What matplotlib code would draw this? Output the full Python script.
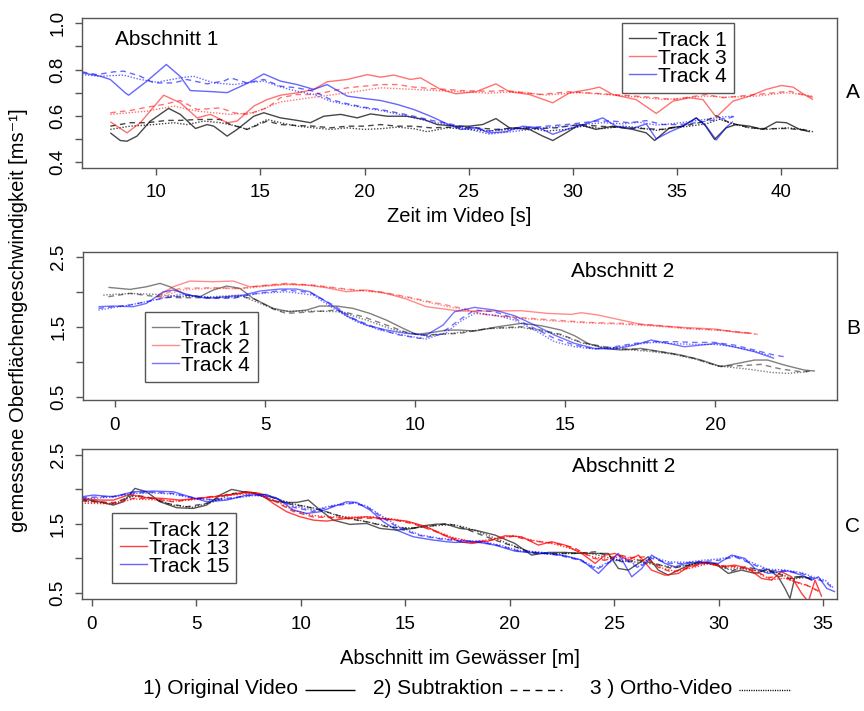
import matplotlib
matplotlib.use("Agg")
import matplotlib.pyplot as plt
from matplotlib.lines import Line2D

plt.rcParams['font.family'] = ['Liberation Sans', 'DejaVu Sans']

# ---------------------------------------------------------------------------
# Abschnitt 1: Zeit im Video [s] vs. Geschwindigkeit [m/s]
# (orig = Original Video, sub = Subtraktion, ortho = Ortho-Video)
# ---------------------------------------------------------------------------
A_T1_ORIG = [(7.79, 0.526), (8.27, 0.493), (8.59, 0.490), (9.07, 0.512), (9.71, 0.577), (10.59, 0.632),
             (11.15, 0.606), (11.88, 0.545), (12.44, 0.562), (12.76, 0.555), (13.4, 0.512), (13.88, 0.541),
             (14.68, 0.598), (15.16, 0.613), (15.96, 0.591), (16.76, 0.580), (17.4, 0.570), (18.04, 0.598),
             (18.85, 0.606), (19.65, 0.591), (20.29, 0.608), (21.09, 0.598), (22.05, 0.598), (22.85, 0.584),
             (23.49, 0.562), (24.39, 0.555), (25.03, 0.555), (25.67, 0.562), (26.31, 0.588), (26.96, 0.548),
             (27.92, 0.541), (28.56, 0.512), (29.04, 0.493), (29.68, 0.526), (30.32, 0.562), (31.12, 0.541),
             (31.92, 0.555), (32.88, 0.541), (33.53, 0.526), (33.93, 0.493), (34.65, 0.548), (35.29, 0.555),
             (35.93, 0.591), (36.33, 0.562), (36.81, 0.498), (37.37, 0.548), (37.85, 0.562), (38.49, 0.555),
             (39.13, 0.541), (39.78, 0.573), (40.26, 0.570), (40.9, 0.541), (41.38, 0.531)]
A_T1_SUB = [(7.79, 0.555), (8.75, 0.570), (9.55, 0.570), (10.51, 0.580), (11.15, 0.580), (11.96, 0.584),
            (13.08, 0.584), (13.56, 0.562), (14.36, 0.541), (15.32, 0.577), (15.96, 0.562), (16.76, 0.558),
            (17.56, 0.555), (18.37, 0.548), (19.17, 0.555), (19.97, 0.555), (20.77, 0.562), (21.57, 0.555),
            (22.37, 0.555), (23.17, 0.548), (24.39, 0.551), (25.35, 0.548), (26.31, 0.541), (27.28, 0.548),
            (28.4, 0.545), (29.2, 0.548), (30.32, 0.562), (31.28, 0.555), (32.4, 0.548), (33.53, 0.544),
            (34.33, 0.541), (35.29, 0.555), (36.33, 0.575), (36.89, 0.600), (37.53, 0.570), (38.49, 0.548),
            (39.29, 0.544), (40.26, 0.545), (41.38, 0.537)]
A_T1_ORTHO = [(7.79, 0.541), (8.75, 0.555), (9.87, 0.562), (10.83, 0.570), (11.47, 0.562), (12.28, 0.577),
              (13.08, 0.570), (13.88, 0.555), (14.36, 0.541), (15.32, 0.584), (15.96, 0.570), (16.76, 0.555),
              (17.56, 0.548), (18.37, 0.541), (19.17, 0.548), (19.97, 0.541), (20.77, 0.544), (21.57, 0.551),
              (22.37, 0.544), (23.01, 0.531), (23.97, 0.548), (25.03, 0.541), (25.99, 0.534), (26.96, 0.541),
              (27.92, 0.548), (28.72, 0.534), (29.68, 0.541), (30.48, 0.555), (31.44, 0.544), (32.4, 0.555),
              (33.2, 0.548), (34.01, 0.537), (34.81, 0.548), (35.61, 0.555), (36.41, 0.565), (37.05, 0.585),
              (37.69, 0.565), (38.49, 0.548), (39.29, 0.541), (40.26, 0.548), (41.06, 0.541), (41.54, 0.531)]

A_T3_ORIG = [(7.79, 0.574), (8.59, 0.526), (9.23, 0.570), (10.35, 0.689), (11.15, 0.656), (11.96, 0.591),
             (12.6, 0.606), (13.4, 0.570), (13.88, 0.577), (14.68, 0.642), (15.32, 0.670), (15.96, 0.689),
             (16.76, 0.699), (17.56, 0.714), (18.2, 0.747), (19.17, 0.757), (20.13, 0.778), (20.77, 0.767),
             (21.41, 0.776), (22.21, 0.757), (22.69, 0.764), (23.65, 0.714), (24.39, 0.695), (25.35, 0.704),
             (26.31, 0.738), (26.96, 0.704), (27.92, 0.692), (29.04, 0.656), (29.84, 0.699), (30.8, 0.714),
             (31.28, 0.724), (31.92, 0.692), (33.04, 0.670), (34.01, 0.610), (34.81, 0.663), (35.61, 0.678),
             (36.25, 0.670), (36.89, 0.594), (37.69, 0.663), (38.49, 0.685), (39.29, 0.714), (40.02, 0.731),
             (40.58, 0.724), (41.06, 0.695), (41.54, 0.670)]
A_T3_SUB = [(7.79, 0.613), (8.75, 0.623), (9.55, 0.637), (10.35, 0.649), (11.15, 0.666), (11.96, 0.627),
            (13.08, 0.634), (13.72, 0.613), (14.36, 0.606), (15.32, 0.634), (15.96, 0.678), (16.76, 0.692),
            (17.56, 0.692), (18.37, 0.706), (19.17, 0.721), (19.97, 0.728), (20.77, 0.735), (21.57, 0.735),
            (22.37, 0.724), (23.17, 0.718), (23.97, 0.714), (24.62, 0.709), (25.99, 0.706), (26.79, 0.709),
            (28.4, 0.692), (29.84, 0.704), (31.44, 0.695), (33.04, 0.685), (34.01, 0.678), (34.81, 0.670),
            (36.41, 0.692), (37.21, 0.678), (38.81, 0.692), (40.42, 0.706), (41.54, 0.680)]
A_T3_ORTHO = [(7.79, 0.606), (9.55, 0.620), (10.83, 0.642), (11.96, 0.620), (13.56, 0.606), (14.68, 0.613),
              (15.96, 0.660), (17.56, 0.680), (19.17, 0.699), (20.77, 0.721), (22.37, 0.714), (24.62, 0.704),
              (25.99, 0.698), (27.28, 0.704), (28.72, 0.690), (30.32, 0.700), (31.6, 0.692), (33.2, 0.680),
              (34.33, 0.670), (35.29, 0.676), (36.41, 0.685), (37.37, 0.680), (38.81, 0.685), (40.26, 0.700),
              (41.54, 0.685)]

A_T4_ORIG = [(6.43, 0.786), (7.31, 0.771), (7.79, 0.757), (8.51, 0.699), (8.67, 0.689), (9.55, 0.750),
             (10.48, 0.822), (11.15, 0.770), (11.63, 0.709), (12.76, 0.704), (13.4, 0.700), (14.36, 0.740),
             (15.16, 0.781), (15.96, 0.750), (16.76, 0.735), (17.56, 0.714), (18.2, 0.735), (19.17, 0.685),
             (19.97, 0.675), (20.77, 0.666), (21.57, 0.649), (22.37, 0.627), (23.17, 0.598), (23.97, 0.565),
             (24.62, 0.541), (25.35, 0.548), (25.99, 0.526), (26.79, 0.531), (27.6, 0.555), (28.4, 0.548),
             (29.04, 0.520), (29.84, 0.545), (30.48, 0.560), (31.44, 0.591), (32.08, 0.555), (32.88, 0.545),
             (33.53, 0.565), (34.01, 0.500), (34.65, 0.530), (35.29, 0.555), (35.93, 0.590), (36.41, 0.555),
             (36.89, 0.495), (37.37, 0.550), (37.69, 0.575)]
A_T4_SUB = [(6.43, 0.790), (7.15, 0.778), (7.95, 0.790), (8.43, 0.793), (9.23, 0.771), (9.87, 0.742),
            (10.83, 0.742), (11.47, 0.757), (12.44, 0.738), (13.24, 0.750), (13.56, 0.764), (14.36, 0.742),
            (15.16, 0.757), (15.96, 0.728), (16.76, 0.721), (17.56, 0.706), (18.37, 0.670), (19.17, 0.652),
            (19.97, 0.637), (20.77, 0.627), (21.57, 0.613), (22.37, 0.598), (23.17, 0.581), (23.97, 0.567),
            (24.62, 0.555), (25.35, 0.548), (25.99, 0.534), (26.96, 0.545), (27.92, 0.548), (28.72, 0.555),
            (29.68, 0.562), (30.48, 0.570), (31.12, 0.577), (31.92, 0.577), (32.72, 0.570), (33.53, 0.579),
            (34.33, 0.562), (35.13, 0.562), (35.93, 0.570), (36.73, 0.581), (37.53, 0.591), (37.85, 0.600)]
A_T4_ORTHO = [(6.43, 0.778), (7.31, 0.771), (8.43, 0.776), (9.23, 0.757), (10.03, 0.745), (11.15, 0.764),
              (11.79, 0.771), (12.76, 0.742), (13.72, 0.735), (15.16, 0.750), (15.96, 0.725), (16.76, 0.706),
              (17.56, 0.692), (18.37, 0.663), (19.17, 0.648), (19.97, 0.634), (20.77, 0.623), (21.57, 0.608),
              (22.37, 0.591), (23.17, 0.574), (23.97, 0.562), (24.62, 0.551), (25.35, 0.534), (25.99, 0.521),
              (26.96, 0.530), (27.92, 0.540), (28.72, 0.548), (29.68, 0.555), (30.48, 0.562), (31.44, 0.570),
              (32.4, 0.565), (33.2, 0.572), (34.01, 0.560), (34.81, 0.566), (35.61, 0.575), (36.41, 0.585),
              (37.21, 0.595), (37.69, 0.598)]

# ---------------------------------------------------------------------------
# Abschnitt 2, Tracks 1/2/4: Abschnitt im Gewaesser [m] vs. Geschwindigkeit
# ---------------------------------------------------------------------------
B_T1_ORIG = [(-0.22, 2.062), (0.5, 2.033), (1.05, 2.071), (1.5, 2.119), (1.83, 2.071), (2.38, 1.952),
             (2.83, 1.929), (3.27, 2.024), (3.72, 2.081), (4.16, 2.048), (4.6, 1.905), (5.27, 1.762),
             (5.82, 1.714), (6.38, 1.738), (6.82, 1.795), (7.38, 1.795), (7.93, 1.762), (8.49, 1.690),
             (9.04, 1.595), (9.6, 1.476), (10.04, 1.390), (10.59, 1.419), (11.04, 1.452), (11.48, 1.452),
             (11.98, 1.438), (12.76, 1.500), (13.53, 1.548), (14.2, 1.514), (14.86, 1.452), (15.31, 1.371),
             (15.75, 1.262), (16.31, 1.190), (16.86, 1.167), (17.53, 1.190), (18.19, 1.143), (18.86, 1.095),
             (19.53, 1.024), (20.19, 0.929), (20.74, 0.976), (21.3, 1.024), (21.74, 1.024), (22.3, 0.952),
             (22.96, 0.881), (23.3, 0.867)]
B_T1_SUB = [(-0.22, 1.929), (0.5, 1.976), (1.39, 1.929), (2.16, 1.914), (3.27, 1.914), (4.16, 1.929),
            (4.6, 1.905), (5.27, 1.752), (5.71, 1.690), (6.6, 1.714), (7.38, 1.738), (8.26, 1.643),
            (9.04, 1.524), (9.71, 1.419), (10.26, 1.381), (11.48, 1.405), (12.42, 1.476), (13.53, 1.500),
            (14.2, 1.452), (14.86, 1.390), (15.53, 1.276), (16.31, 1.214), (17.09, 1.181), (17.75, 1.167),
            (18.53, 1.119), (19.3, 1.048), (20.08, 0.938), (20.85, 0.943), (21.52, 0.962), (22.19, 0.895),
            (22.85, 0.857), (23.3, 0.867)]
B_T1_ORTHO = [(-0.39, 1.952), (0.5, 1.976), (1.39, 1.962), (2.16, 1.929), (3.27, 1.929), (4.16, 1.952),
              (4.83, 1.833), (5.49, 1.724), (6.6, 1.724), (7.49, 1.714), (8.37, 1.595), (9.15, 1.476),
              (9.82, 1.405), (10.37, 1.371), (11.48, 1.419), (12.42, 1.470), (13.53, 1.490), (14.2, 1.440),
              (14.86, 1.380), (15.53, 1.270), (16.31, 1.200), (17.09, 1.170), (17.75, 1.150), (18.53, 1.110),
              (19.3, 1.040), (20.08, 0.940), (21.07, 0.895), (21.85, 0.848), (22.41, 0.833), (23.07, 0.857)]

B_T2_ORIG = [(1.39, 1.929), (1.94, 2.071), (2.5, 2.152), (3.27, 2.143), (3.94, 2.152), (4.49, 2.071),
             (5.05, 2.086), (5.71, 2.110), (6.38, 2.095), (7.04, 2.057), (7.71, 2.000), (8.37, 2.024),
             (9.04, 1.976), (9.71, 1.895), (10.37, 1.786), (11.04, 1.748), (11.48, 1.724), (12.42, 1.724),
             (13.53, 1.729), (14.42, 1.690), (15.2, 1.676), (15.53, 1.700), (16.09, 1.667), (16.86, 1.595),
             (17.53, 1.533), (18.19, 1.510), (19.08, 1.486), (19.97, 1.467), (20.74, 1.419), (21.19, 1.405)]
B_T2_SUB = [(1.39, 1.929), (2.16, 2.048), (3.27, 2.057), (4.16, 2.048), (5.05, 2.095), (5.71, 2.119),
            (6.6, 2.095), (7.71, 2.038), (8.82, 2.000), (9.71, 1.929), (10.37, 1.867), (11.04, 1.810),
            (11.6, 1.760), (12.42, 1.667), (13.53, 1.629), (14.64, 1.595), (15.75, 1.562), (16.86, 1.548),
            (17.97, 1.524), (19.08, 1.476), (20.19, 1.452), (20.96, 1.419), (21.41, 1.390)]
B_T2_ORTHO = [(1.5, 1.905), (2.16, 2.024), (3.27, 2.050), (4.16, 2.040), (5.05, 2.080), (5.71, 2.100),
              (6.6, 2.090), (7.71, 2.030), (8.82, 1.990), (9.71, 1.920), (10.37, 1.855), (11.04, 1.790),
              (11.6, 1.745), (12.42, 1.670), (13.53, 1.620), (14.64, 1.580), (15.75, 1.555), (16.86, 1.535),
              (17.97, 1.510), (19.08, 1.470), (20.19, 1.445), (21.07, 1.410), (21.3, 1.400)]

B_T4_ORIG = [(-0.55, 1.786), (-0.06, 1.795), (0.61, 1.786), (1.05, 1.833), (1.61, 2.000), (1.94, 2.024),
             (2.5, 1.952), (3.05, 1.905), (3.72, 1.929), (4.27, 1.952), (4.83, 2.010), (5.49, 2.038),
             (6.05, 2.038), (6.49, 2.000), (7.04, 1.857), (7.71, 1.657), (8.37, 1.524), (9.04, 1.452),
             (9.71, 1.405), (10.37, 1.381), (10.93, 1.524), (11.31, 1.714), (11.98, 1.776), (12.64, 1.738),
             (13.31, 1.657), (13.98, 1.524), (14.64, 1.381), (15.31, 1.262), (15.97, 1.190), (16.64, 1.181),
             (17.31, 1.238), (17.86, 1.310), (18.42, 1.262), (18.97, 1.214), (19.53, 1.238), (20.08, 1.262),
             (20.74, 1.200), (21.3, 1.143), (21.96, 1.048)]
B_T4_SUB = [(-0.55, 1.762), (0.5, 1.810), (1.05, 1.857), (1.72, 1.914), (2.5, 1.952), (3.27, 1.905),
            (3.94, 1.905), (4.71, 1.976), (5.71, 2.024), (6.49, 1.990), (7.27, 1.810), (7.93, 1.619),
            (8.6, 1.500), (9.37, 1.390), (10.15, 1.333), (10.82, 1.390), (11.48, 1.600), (11.98, 1.738),
            (12.64, 1.714), (13.31, 1.619), (13.98, 1.476), (14.64, 1.333), (15.31, 1.238), (15.97, 1.181),
            (16.64, 1.214), (17.31, 1.262), (17.97, 1.286), (18.64, 1.286), (19.3, 1.276), (19.97, 1.276),
            (20.63, 1.238), (21.3, 1.167), (21.96, 1.095), (22.3, 1.071)]
B_T4_ORTHO = [(-0.55, 1.738), (0.5, 1.810), (1.28, 1.881), (2.16, 1.962), (3.05, 1.914), (3.94, 1.919),
              (4.83, 1.976), (5.71, 2.000), (6.6, 1.952), (7.27, 1.762), (8.04, 1.571), (8.82, 1.452),
              (9.71, 1.371), (10.37, 1.324), (11.04, 1.419), (11.48, 1.571), (11.98, 1.690), (12.64, 1.667),
              (13.31, 1.595), (13.98, 1.452), (14.64, 1.286), (15.31, 1.214), (15.97, 1.181), (16.64, 1.200),
              (17.31, 1.248), (17.97, 1.276), (18.64, 1.257), (19.3, 1.248), (19.97, 1.248), (20.63, 1.214),
              (21.3, 1.152), (21.85, 1.081)]

# ---------------------------------------------------------------------------
# Abschnitt 2, Tracks 12/13/15
# ---------------------------------------------------------------------------
C_T12_ORIG = [(-0.48, 1.860), (0.24, 1.830), (1.04, 1.772), (1.52, 1.821), (2.07, 2.015), (2.63, 1.966),
              (3.27, 1.821), (4.07, 1.734), (4.86, 1.724), (5.5, 1.772), (6.14, 1.918), (6.7, 2.000),
              (7.26, 1.966), (7.89, 1.942), (8.53, 1.845), (9.17, 1.811), (9.81, 1.811), (10.37, 1.845),
              (10.93, 1.700), (11.56, 1.554), (12.36, 1.492), (13.16, 1.506), (13.8, 1.433), (14.59, 1.409),
              (15.39, 1.433), (15.87, 1.472), (16.51, 1.496), (16.99, 1.492), (17.62, 1.433), (18.34, 1.409),
              (19.3, 1.337), (20.25, 1.215), (21.05, 1.046), (21.85, 1.085), (22.65, 1.085), (23.45, 1.070),
              (24.25, 1.070), (24.72, 1.070), (25.2, 0.852), (25.68, 0.828), (26.16, 0.925), (26.63, 1.022),
              (27.11, 0.828), (27.59, 0.755), (28.23, 0.852), (29.02, 0.949), (29.82, 0.925), (30.46, 0.780),
              (31.1, 0.828), (31.73, 0.780), (32.37, 0.840), (32.85, 0.731), (33.17, 0.562), (33.41, 0.416),
              (33.65, 0.731), (34.13, 0.731), (34.45, 0.683)]
C_T12_SUB = [(-0.48, 1.845), (1.04, 1.797), (1.99, 1.918), (2.63, 1.893), (3.59, 1.797), (4.55, 1.748),
             (5.5, 1.797), (6.46, 1.927), (7.42, 1.966), (8.37, 1.918), (9.33, 1.797), (10.29, 1.748),
             (11.24, 1.676), (12.2, 1.579), (13.16, 1.530), (14.11, 1.458), (15.07, 1.433), (16.03, 1.458),
             (16.99, 1.506), (17.62, 1.458), (18.34, 1.375), (19.3, 1.264), (20.25, 1.167), (21.21, 1.070),
             (22.17, 1.070), (23.12, 1.070), (24.09, 1.094), (24.72, 1.036), (25.36, 0.949), (26.16, 0.973),
             (26.95, 0.925), (27.75, 0.852), (28.55, 0.901), (29.34, 0.939), (30.14, 0.901), (30.62, 0.814),
             (31.25, 0.876), (32.05, 0.828), (32.69, 0.804), (33.33, 0.707), (33.97, 0.731), (34.45, 0.707)]
C_T12_ORTHO = [(-0.48, 1.83), (1.04, 1.79), (1.99, 1.90), (2.95, 1.87), (3.91, 1.77), (4.86, 1.74),
               (5.82, 1.82), (6.78, 1.94), (7.74, 1.95), (8.69, 1.88), (9.65, 1.79), (10.61, 1.73),
               (11.56, 1.64), (12.52, 1.57), (13.48, 1.51), (14.43, 1.45), (15.39, 1.44), (16.35, 1.47),
               (17.3, 1.49), (18.0, 1.44), (18.98, 1.33), (19.94, 1.21), (20.89, 1.10), (21.85, 1.06),
               (22.81, 1.07), (23.77, 1.08), (24.56, 1.02), (25.36, 0.96), (26.32, 0.94), (27.11, 0.90),
               (27.91, 0.87), (28.87, 0.92), (29.66, 0.92), (30.46, 0.84), (31.25, 0.85), (32.05, 0.81),
               (32.85, 0.79), (33.49, 0.70), (34.13, 0.72), (34.45, 0.70)]

C_T13_ORIG = [(-0.48, 1.869), (0.4, 1.845), (1.04, 1.845), (1.83, 1.927), (2.63, 1.879), (3.43, 1.869),
              (4.23, 1.845), (5.02, 1.869), (5.82, 1.893), (6.78, 1.927), (7.42, 1.966), (8.05, 1.942),
              (8.69, 1.797), (9.33, 1.676), (9.97, 1.603), (10.61, 1.554), (11.24, 1.540), (12.2, 1.579),
              (13.16, 1.603), (14.11, 1.569), (15.07, 1.540), (16.03, 1.458), (16.83, 1.337), (17.62, 1.240),
              (18.18, 1.215), (18.98, 1.249), (19.78, 1.327), (20.57, 1.312), (21.37, 1.191), (22.0, 1.240),
              (22.65, 1.191), (23.45, 1.070), (24.09, 0.925), (24.56, 1.046), (25.04, 1.070), (25.68, 0.973),
              (26.16, 1.046), (26.79, 0.828), (27.43, 0.755), (28.07, 0.780), (28.55, 0.876), (29.34, 0.939),
              (30.14, 0.876), (30.78, 0.901), (31.41, 0.852), (32.05, 0.707), (32.53, 0.683), (33.0, 0.804),
              (33.49, 0.731), (33.97, 0.489), (34.29, 0.368), (34.61, 0.683), (34.93, 0.441)]
C_T13_SUB = [(-0.48, 1.83), (1.04, 1.81), (1.99, 1.87), (2.95, 1.87), (3.91, 1.82), (4.86, 1.86),
             (5.82, 1.90), (6.78, 1.93), (7.74, 1.96), (8.69, 1.84), (9.65, 1.68), (10.61, 1.60),
             (11.56, 1.59), (12.52, 1.58), (13.48, 1.58), (14.43, 1.56), (15.39, 1.50), (16.35, 1.40),
             (17.3, 1.29), (18.26, 1.23), (19.22, 1.27), (20.17, 1.32), (21.13, 1.25), (22.09, 1.22),
             (23.04, 1.16), (24.0, 1.00), (24.56, 0.97), (25.2, 1.05), (25.84, 1.01), (26.47, 1.02),
             (27.11, 0.87), (27.75, 0.80), (28.55, 0.86), (29.34, 0.93), (30.14, 0.89), (30.94, 0.88),
             (31.73, 0.82), (32.37, 0.72), (33.0, 0.74), (33.65, 0.66), (34.13, 0.62), (34.61, 0.55),
             (34.93, 0.50)]
C_T13_ORTHO = [(-0.48, 1.80), (1.04, 1.79), (1.99, 1.86), (2.95, 1.85), (3.91, 1.83), (4.86, 1.85),
               (5.82, 1.89), (6.78, 1.92), (7.74, 1.94), (8.69, 1.85), (9.65, 1.70), (10.61, 1.62),
               (11.56, 1.60), (12.52, 1.60), (13.48, 1.60), (14.43, 1.57), (15.39, 1.51), (16.35, 1.41),
               (17.3, 1.30), (18.26, 1.24), (19.22, 1.28), (20.17, 1.33), (21.13, 1.26), (22.09, 1.21),
               (23.04, 1.13), (24.0, 1.02), (24.72, 0.98), (25.36, 1.03), (26.0, 0.98), (26.63, 0.97),
               (27.27, 0.86), (27.91, 0.81), (28.7, 0.86), (29.5, 0.92), (30.3, 0.88), (31.1, 0.86),
               (31.89, 0.78), (32.53, 0.69), (33.17, 0.71), (33.81, 0.64), (34.29, 0.60), (34.77, 0.52)]

C_T15_ORIG = [(-0.48, 1.893), (0.08, 1.918), (1.04, 1.893), (1.99, 1.966), (2.95, 1.976), (3.91, 1.966),
              (4.7, 1.893), (5.5, 1.821), (6.46, 1.845), (7.42, 1.918), (8.37, 1.927), (9.01, 1.845),
              (9.65, 1.700), (10.29, 1.651), (10.93, 1.676), (11.56, 1.748), (12.2, 1.821), (12.68, 1.811),
              (13.32, 1.700), (13.96, 1.530), (14.59, 1.409), (15.39, 1.312), (16.35, 1.264), (16.99, 1.240),
              (17.38, 1.230), (18.34, 1.240), (19.3, 1.191), (20.25, 1.104), (20.89, 1.085), (21.85, 1.070),
              (22.65, 1.036), (23.45, 0.973), (24.25, 0.780), (24.72, 0.925), (25.2, 1.070), (25.84, 0.731),
              (26.32, 0.852), (26.79, 1.046), (27.43, 0.925), (27.91, 0.876), (28.55, 0.939), (29.34, 0.939),
              (29.98, 0.925), (30.62, 1.046), (31.25, 0.998), (31.73, 0.852), (32.37, 0.780), (32.85, 0.804),
              (33.33, 0.814), (33.97, 0.755), (34.45, 0.683), (34.77, 0.731), (35.17, 0.562), (35.57, 0.513)]
C_T15_SUB = [(-0.48, 1.88), (1.04, 1.90), (1.99, 1.95), (2.95, 1.96), (3.91, 1.94), (4.86, 1.88),
             (5.82, 1.85), (6.78, 1.88), (7.74, 1.92), (8.69, 1.90), (9.65, 1.74), (10.61, 1.68),
             (11.56, 1.76), (12.52, 1.80), (13.16, 1.75), (13.96, 1.58), (14.75, 1.43), (15.71, 1.33),
             (16.67, 1.28), (17.62, 1.25), (18.58, 1.24), (19.54, 1.18), (20.49, 1.10), (21.45, 1.08),
             (22.41, 1.04), (23.37, 0.97), (24.17, 0.84), (24.88, 0.96), (25.52, 0.98), (26.16, 0.86),
             (26.79, 1.00), (27.59, 0.93), (28.39, 0.92), (29.18, 0.95), (29.98, 0.97), (30.78, 1.02),
             (31.57, 0.92), (32.37, 0.82), (33.17, 0.82), (33.97, 0.78), (34.61, 0.70), (35.1, 0.66),
             (35.5, 0.55)]
C_T15_ORTHO = [(-0.48, 1.86), (1.04, 1.89), (1.99, 1.94), (2.95, 1.95), (3.91, 1.93), (4.86, 1.87),
               (5.82, 1.84), (6.78, 1.87), (7.74, 1.91), (8.69, 1.89), (9.65, 1.76), (10.61, 1.70),
               (11.56, 1.77), (12.52, 1.81), (13.16, 1.76), (13.96, 1.60), (14.75, 1.45), (15.71, 1.34),
               (16.67, 1.29), (17.62, 1.26), (18.58, 1.25), (19.54, 1.19), (20.49, 1.11), (21.45, 1.09),
               (22.41, 1.05), (23.37, 0.98), (24.17, 0.86), (24.88, 0.97), (25.52, 1.00), (26.16, 0.88),
               (26.79, 1.02), (27.59, 0.95), (28.39, 0.94), (29.18, 0.97), (29.98, 0.99), (30.78, 1.03),
               (31.57, 0.94), (32.37, 0.84), (33.17, 0.83), (33.97, 0.79), (34.61, 0.72), (35.1, 0.68),
               (35.5, 0.57)]

# Track names, colours and ticks
TRACKS_A = ["Track 1", "Track 3", "Track 4"]
TRACKS_B = ["Track 1", "Track 2", "Track 4"]
TRACKS_C = ["Track 12", "Track 13", "Track 15"]
COLORS_A = [(0, 0, 0, 0.72), (1, 0, 0, 0.55), (0, 0, 1, 0.6)]
COLORS_B = [(0, 0, 0, 0.5), (1, 0, 0, 0.45), (0, 0, 1, 0.55)]
COLORS_C = [(0, 0, 0, 0.65), (1, 0, 0, 0.75), (0, 0, 1, 0.6)]

XTICKS_A = [10, 15, 20, 25, 30, 35, 40]
YTICKS_A = [0.4, 0.5, 0.6, 0.7, 0.8, 0.9, 1.0]
YLABELS_A = ["0.4", "", "0.6", "", "0.8", "", "1.0"]
XTICKS_B = [0, 5, 10, 15, 20]
XTICKS_C = [0, 5, 10, 15, 20, 25, 30, 35]
YTICKS_BC = [0.5, 1.0, 1.5, 2.0, 2.5]
YLABELS_BC = ["0.5", "", "1.5", "", "2.5"]

METHOD_STYLES = [(0, ()), (0, (4, 3)), (0, (1, 1.2))]
METHOD_TEXT = ["1) Original Video", "2) Subtraktion", "3 ) Ortho-Video"]

W, H = 864, 711
fig = plt.figure(figsize=(W / 100, H / 100), dpi=100)


def axes_px(left, top, right, bottom):
    return fig.add_axes([left / W, 1 - bottom / H, (right - left) / W, (bottom - top) / H])


def style_axes(ax, xlim, ylim, xticks, yticks, ylabels):
    ax.set_xlim(*xlim)
    ax.set_ylim(*ylim)
    ax.set_xticks(xticks)
    ax.set_xticklabels([str(t) for t in xticks])
    ax.set_yticks(yticks)
    ax.set_yticklabels(ylabels, rotation=90, va="center")
    for sp in ax.spines.values():
        sp.set_color("#555555")
        sp.set_linewidth(1.0)
    ax.tick_params(axis="both", direction="out", length=5, width=1.0, color="#555555",
                   labelsize=13.5, labelcolor="black")
    ax.tick_params(axis="x", pad=7)
    ax.tick_params(axis="y", pad=6)


def draw_tracks(ax, names, colors, series):
    handles = []
    for name, col, methods in zip(names, colors, series):
        for k, pts in enumerate(methods):
            xs = [p[0] for p in pts]
            ys = [p[1] for p in pts]
            ax.plot(xs, ys, color=col, lw=1.0, linestyle=METHOD_STYLES[k], solid_joinstyle="round")
        handles.append(Line2D([], [], color=col, lw=1.0, label=name))
    return handles


def add_legend(ax, handles, anchor):
    leg = ax.legend(handles=handles, loc="upper left", bbox_to_anchor=anchor, borderaxespad=0,
                    fontsize=15, frameon=True, fancybox=False, framealpha=1,
                    edgecolor="#555555", handlelength=1.3, handletextpad=0.1,
                    labelspacing=-0.05, borderpad=0.35)
    leg.get_frame().set_linewidth(1.0)
    return leg


# Panel A
axA = axes_px(82, 18.3, 837, 167.7)
style_axes(axA, (6.43, 42.69), (0.3754, 1.0216), XTICKS_A, YTICKS_A, YLABELS_A)
hA = draw_tracks(axA, TRACKS_A, COLORS_A,
                 [(A_T1_ORIG, A_T1_SUB, A_T1_ORTHO), (A_T3_ORIG, A_T3_SUB, A_T3_ORTHO),
                  (A_T4_ORIG, A_T4_SUB, A_T4_ORTHO)])
add_legend(axA, hA, (0.7148, 0.9665))
axA.text(0.0437, 0.859, "Abschnitt 1", transform=axA.transAxes, fontsize=15, va="center", ha="left")

# Panel B
axB = axes_px(82.7, 252.3, 837, 400.3)
style_axes(axB, (-1.075, 24.05), (0.449, 2.563), XTICKS_B, YTICKS_BC, YLABELS_BC)
hB = draw_tracks(axB, TRACKS_B, COLORS_B,
                 [(B_T1_ORIG, B_T1_SUB, B_T1_ORTHO), (B_T2_ORIG, B_T2_SUB, B_T2_ORTHO),
                  (B_T4_ORIG, B_T4_SUB, B_T4_ORTHO)])
add_legend(axB, hB, (0.0826, 0.5946))
axB.text(0.7156, 0.869, "Abschnitt 2", transform=axB.transAxes, fontsize=15, va="center", ha="center")

# Panel C
axC = axes_px(82, 449, 837, 599)
style_axes(axC, (-0.46, 35.66), (0.4085, 2.587), XTICKS_C, YTICKS_BC, YLABELS_BC)
hC = draw_tracks(axC, TRACKS_C, COLORS_C,
                 [(C_T12_ORIG, C_T12_SUB, C_T12_ORTHO), (C_T13_ORIG, C_T13_SUB, C_T13_ORTHO),
                  (C_T15_ORIG, C_T15_SUB, C_T15_ORTHO)])
add_legend(axC, hC, (0.0401, 0.5713))
axC.text(0.7172, 0.882, "Abschnitt 2", transform=axC.transAxes, fontsize=15, va="center", ha="center")

# Panel letters and axis titles
for letter, ypx in (("A", 93), ("B", 328), ("C", 527)):
    fig.text(853 / W, 1 - ypx / H, letter, fontsize=15, ha="center", va="center")

fig.text(459.5 / W, 1 - 217 / H, "Zeit im Video [s]", fontsize=14.5, ha="center", va="center")
fig.text(459.5 / W, 1 - 658 / H, "Abschnitt im Gewässer [m]", fontsize=14.5, ha="center", va="center")
fig.text(19 / W, 1 - 320 / H, "gemessene Oberflächengeschwindigkeit [ms⁻¹]", fontsize=14.5,
         rotation=90, ha="center", va="center")

# Method key along the bottom: text followed by a sample of its line style
fig.canvas.draw()
renderer = fig.canvas.get_renderer()
y_px = 689.0
text_starts = [143, 373, 590]
line_lengths = [50, 52, 52]
key_styles = [(0, ()), (0, (5, 4)), (0, (0.8, 0.9))]
for txt, ls, x0, llen in zip(METHOD_TEXT, key_styles, text_starts, line_lengths):
    t = fig.text(x0 / W, 1 - y_px / H, txt, fontsize=15, ha="left", va="center")
    bb = t.get_window_extent(renderer)
    xl = bb.x1 + 7
    fig.add_artist(Line2D([xl / W, (xl + llen) / W], [1 - (y_px + 1) / H, 1 - (y_px + 1) / H],
                          transform=fig.transFigure, color="black", lw=1.0, linestyle=ls))

fig.savefig("out.png", dpi=100)
